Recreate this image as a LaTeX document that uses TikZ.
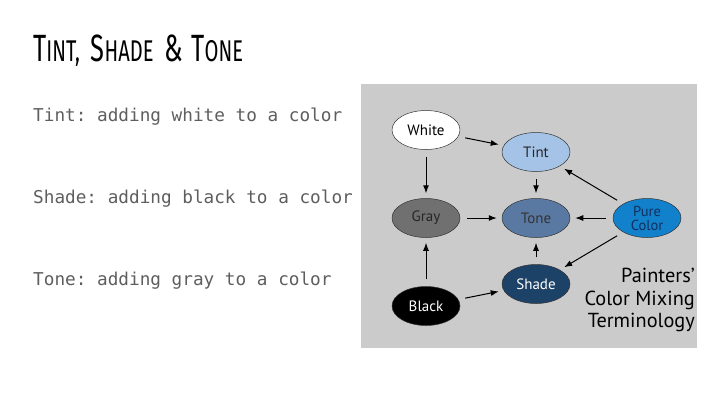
\documentclass[tikz,border=0pt]{standalone}
\usepackage{fontspec}
\setmainfont{PT Sans}
\setmonofont{DejaVu Sans Mono}
\newfontfamily\titlefont{Fira Sans}
\usetikzlibrary{arrows.meta,shapes.geometric}
\definecolor{panel}{HTML}{CBCBCB}
\definecolor{tintc}{HTML}{A5C3E7}
\definecolor{grayc}{HTML}{707070}
\definecolor{tonec}{HTML}{5A79A2}
\definecolor{purec}{HTML}{1181CC}
\definecolor{puretext}{HTML}{142F5C}
\definecolor{shadec}{HTML}{1D4267}
\definecolor{bodytext}{HTML}{5E5E5E}
\newcommand{\capword}[2]{{\fontsize{38}{38}\selectfont #1}{\fontsize{30}{30}\selectfont #2}}

\begin{document}
\begin{tikzpicture}[x=1pt,y=-1pt,
  mix/.style={ellipse,draw=black!80,line width=0.5pt,minimum width=68pt,
    minimum height=39pt,inner sep=0pt,font=\fontsize{15}{15}\selectfont,align=center},
  line/.style={font=\ttfamily\fontsize{17.7}{18}\selectfont,text=bodytext,anchor=west,inner sep=0pt},
  mixarrow/.style={-{Latex[length=8pt,width=6pt]},line width=1pt,shorten <=7pt,shorten >=5pt}]
  \useasboundingbox (0,0) rectangle (720,405);
  % title and the three definitions
  \node[anchor=west,inner sep=0pt] (title) at (33,51)
    {\titlefont\scalebox{0.67}[1]{\capword{T}{INT,}\hspace{16pt}\capword{S}{HADE}\hspace{16pt}\capword{\&}{}\hspace{13pt}\capword{T}{ONE}}};
  \node[line] (tintline) at (33,117) {Tint: adding white to a color};
  \node[line] (shadeline) at (33,199) {Shade: adding black to a color};
  \node[line] (toneline) at (33,281) {Tone: adding gray to a color};
  % picture panel
  \fill[panel] (361,84) rectangle (697,348);
  \node[mix,fill=white] (white) at (426,130) {White};
  \node[mix,fill=tintc,text=black!85] (tint) at (536,152) {Tint};
  \node[mix,fill=grayc,text=black!85] (gray) at (426,218) {Gray};
  \node[mix,fill=tonec,text=black!80] (tone) at (536,218) {Tone};
  \node[mix,fill=purec,text=puretext,font=\fontsize{14.5}{14}\selectfont] (pure) at (647,218) {Pure\\Color};
  \node[mix,fill=shadec,text=white] (shade) at (536,284) {Shade};
  \node[mix,fill=black,text=white] (black) at (426,306) {Black};
  \node[anchor=east,align=right,inner sep=0pt,font=\fontsize{20.3}{22.5}\selectfont] (caption) at (695,300)
    {Painters'\\Color Mixing\\Terminology};
  % arrows
  \draw[mixarrow] (white) -- (tint);
  \draw[mixarrow] (white) -- (gray);
  \draw[mixarrow] (tint) -- (tone);
  \draw[mixarrow] (gray) -- (tone);
  \draw[mixarrow] (pure) -- (tone);
  \draw[mixarrow] (pure) -- (tint);
  \draw[mixarrow] (pure) -- (shade);
  \draw[mixarrow] (shade) -- (tone);
  \draw[mixarrow] (black) -- (gray);
  \draw[mixarrow] (black) -- (shade);
\end{tikzpicture}
\end{document}
